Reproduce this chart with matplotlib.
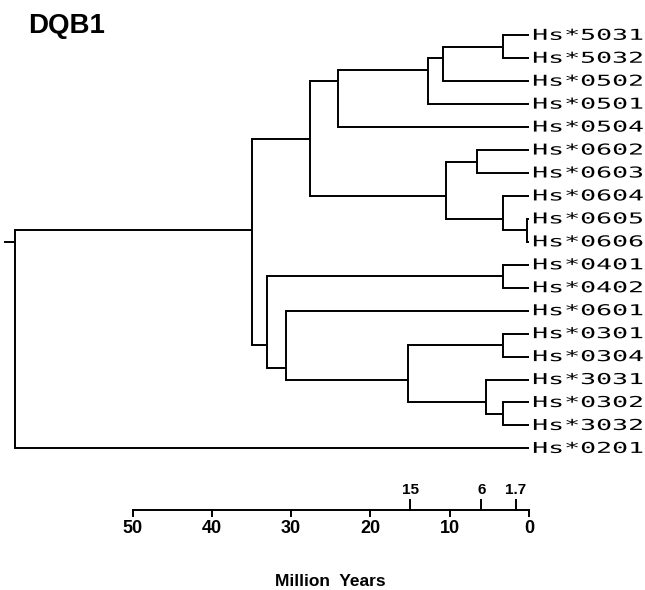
import matplotlib
matplotlib.use("Agg")

import matplotlib.pyplot as plt
from matplotlib.patheffects import AbstractPathEffect
from matplotlib.transforms import Affine2D

# leaves, top to bottom
leaves = [
    "Hs*5031", "Hs*5032", "Hs*0502", "Hs*0501", "Hs*0504",
    "Hs*0602", "Hs*0603", "Hs*0604", "Hs*0605", "Hs*0606",
    "Hs*0401", "Hs*0402", "Hs*0601", "Hs*0301", "Hs*0304",
    "Hs*3031", "Hs*0302", "Hs*3032", "Hs*0201",
]

# internal nodes: name, age (million years), children
node_names = ["n5031", "n0502", "n0501", "n05", "n0602", "n0605", "n0604",
              "n06", "n0506", "n04", "n0301", "n0302", "n3031", "n03",
              "n0601", "n0403", "n0503", "root"]
node_ages = [3.3, 10.8, 12.7, 24.1, 6.6, 0.3, 3.3,
             10.5, 27.6, 3.3, 3.3, 3.3, 5.4, 15.3,
             30.6, 33.0, 34.9, 64.8]
node_kids = [
    ["Hs*5031", "Hs*5032"],
    ["n5031", "Hs*0502"],
    ["n0502", "Hs*0501"],
    ["n0501", "Hs*0504"],
    ["Hs*0602", "Hs*0603"],
    ["Hs*0605", "Hs*0606"],
    ["Hs*0604", "n0605"],
    ["n0602", "n0604"],
    ["n05", "n06"],
    ["Hs*0401", "Hs*0402"],
    ["Hs*0301", "Hs*0304"],
    ["Hs*0302", "Hs*3032"],
    ["Hs*3031", "n0302"],
    ["n0301", "n3031"],
    ["Hs*0601", "n03"],
    ["n04", "n0601"],
    ["n0506", "n0403"],
    ["n0503", "Hs*0201"],
]
root_stub = 1.3

# scale bar
scale_major = [50, 40, 30, 20, 10, 0]
scale_marked = [15, 6, 1.7]
scale_marked_labels = ["15", "6", "1.7"]


class WideText(AbstractPathEffect):
    """Stretch glyphs horizontally (plotter-style wide lettering)."""

    def __init__(self, sx):
        super().__init__()
        self.sx = sx

    def draw_path(self, renderer, gc, tpath, affine, rgbFace=None):
        m = affine.get_matrix().copy()
        m[0, 0] *= self.sx
        m[0, 1] *= self.sx
        renderer.draw_path(gc, tpath, Affine2D(m), rgbFace)


ages = {name: 0.0 for name in leaves}
ages.update(zip(node_names, node_ages))
kids = dict(zip(node_names, node_kids))


def tips(n):
    if n not in kids:
        return [n]
    out = []
    for k in kids[n]:
        out += tips(k)
    return out


ypos = {n: sum(leaves.index(t) for t in tips(n)) / len(tips(n))
        for n in leaves + node_names}

fig = plt.figure(figsize=(6.45, 5.9), dpi=100)
ax = fig.add_axes([0, 0, 1, 1])
ax.set_xlim(66.71, -14.63)
ax.set_ylim(24.17, -1.538)
ax.axis("off")

lw = 1.4
for n in node_names:
    ys = [ypos[k] for k in kids[n]]
    ax.plot([ages[n], ages[n]], [min(ys), max(ys)], color="black", lw=lw,
            solid_capstyle="projecting")
    for k in kids[n]:
        ax.plot([ages[n], ages[k]], [ypos[k], ypos[k]], color="black", lw=lw,
                solid_capstyle="butt")

ax.plot([ages["root"] + root_stub, ages["root"]], [ypos["root"]] * 2,
        color="black", lw=lw)

for i, name in enumerate(leaves):
    ax.text(-0.4, i, name, family="DejaVu Sans Mono", fontsize=10.8,
            ha="left", va="center", color="black",
            path_effects=[WideText(1.77)])

# scale bar
bar_y = 20.68
ax.plot([max(scale_major), min(scale_major)], [bar_y, bar_y], color="black", lw=lw)
for v in scale_major:
    ax.plot([v, v], [bar_y, bar_y + 0.28], color="black", lw=lw)
    ax.text(v, bar_y + 0.45, str(v), ha="center", va="top",
            fontsize=13, fontweight="bold", family="Liberation Sans")
for v, lab in zip(scale_marked, scale_marked_labels):
    ax.plot([v, v], [bar_y, bar_y - 0.45], color="black", lw=lw)
    ax.text(v, bar_y - 0.55, lab, ha="center", va="bottom",
            fontsize=11, fontweight="bold", family="Liberation Sans")

ax.text(25.0, 23.78, "Million  Years", ha="center", va="center",
        fontsize=12.5, fontweight="bold", family="Liberation Sans")

fig.text(28 / 645, 1 - 33 / 590, "DQB1", ha="left", va="baseline",
         fontsize=20, fontweight="bold", family="Liberation Sans")

fig.savefig("out.png", dpi=100)
plt.close(fig)
